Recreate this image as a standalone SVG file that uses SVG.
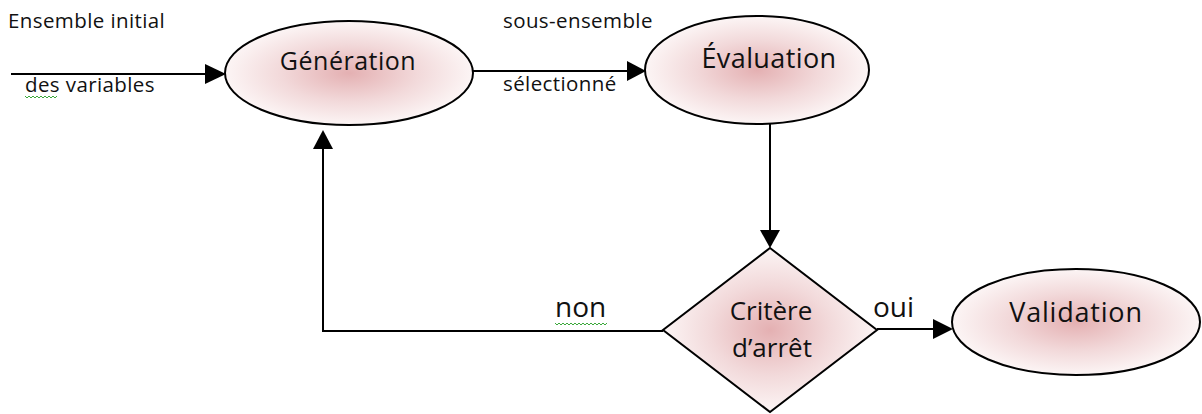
<svg xmlns="http://www.w3.org/2000/svg" width="1202" height="414" viewBox="0 0 1202 414">
<style>
.node{stroke:#000;stroke-width:2;fill:url(#g)}
.lbl{font-family:"Open Sans","Liberation Sans",sans-serif;fill:#111}
.sm{font-size:20.5px;letter-spacing:0.4px}
.edge{stroke:#000;stroke-width:2;fill:none}
.head{fill:#000}
.sq{stroke:#3aa83a;stroke-width:1;fill:none}
</style>
<defs>
<radialGradient id="g" cx="50%" cy="50%" r="50%">
<stop offset="0" stop-color="#e4b0b2"/>
<stop offset="0.55" stop-color="#f2d9da"/>
<stop offset="1" stop-color="#fcf5f5"/>
</radialGradient>
</defs>
<rect width="1202" height="414" fill="#fff"/>
<g id="connectors">
<line class="edge" x1="11" y1="74" x2="208" y2="74"/>
<path class="head" d="M205,64 L226,74 L205,84 z"/>
<line class="edge" x1="473" y1="71" x2="630" y2="71"/>
<path class="head" d="M627,61 L646,71 L627,81 z"/>
<line class="edge" x1="770" y1="123" x2="770" y2="232"/>
<path class="head" d="M760,230 L770,248 L780,230 z"/>
<polyline class="edge" points="663,331 323,331 323,146"/>
<path class="head" d="M313,149 L323,130 L333,149 z"/>
<line class="edge" x1="877" y1="329" x2="936" y2="329"/>
<path class="head" d="M933,319 L953,329 L933,339 z"/>
<text class="lbl sm" x="8" y="28">Ensemble initial</text>
<text class="lbl sm" x="25" y="92">des variables</text>
<path class="sq" d="M25,96 l2,2 l2,-2 l2,2 l2,-2 l2,2 l2,-2 l2,2 l2,-2 l2,2 l2,-2 l2,2 l2,-2 l2,2 l2,-2 l2,2 l2,-2"/>
<text class="lbl sm" x="503" y="28">sous-ensemble</text>
<text class="lbl sm" x="503" y="91">sélectionné</text>
<text class="lbl" x="555" y="317" font-size="28">non</text>
<path class="sq" d="M555,323 l2,2 l2,-2 l2,2 l2,-2 l2,2 l2,-2 l2,2 l2,-2 l2,2 l2,-2 l2,2 l2,-2 l2,2 l2,-2 l2,2 l2,-2 l2,2 l2,-2 l2,2 l2,-2 l2,2 l2,-2 l2,2 l2,-2 l2,2 l2,-2"/>
<text class="lbl" x="873" y="317" font-size="28">oui</text>
</g>
<g id="generation">
<ellipse class="node" cx="349" cy="73" rx="124" ry="52"/>
<text class="lbl" x="348" y="70" font-size="25" letter-spacing="0.5" text-anchor="middle">Génération</text>
</g>
<g id="evaluation">
<ellipse class="node" cx="757" cy="70" rx="112" ry="54"/>
<text class="lbl" x="769" y="68" font-size="27" letter-spacing="0.4" text-anchor="middle">Évaluation</text>
</g>
<g id="critere">
<polygon class="node" points="770,248 877,330 770,412 663,330"/>
<text class="lbl" x="771" y="320" font-size="26" text-anchor="middle">Critère</text>
<text class="lbl" x="772" y="357" font-size="26" text-anchor="middle">d’arrêt</text>
</g>
<g id="validation">
<ellipse class="node" cx="1076" cy="322" rx="124" ry="53"/>
<text class="lbl" x="1076" y="322" font-size="27" letter-spacing="0.8" text-anchor="middle">Validation</text>
</g>
</svg>
